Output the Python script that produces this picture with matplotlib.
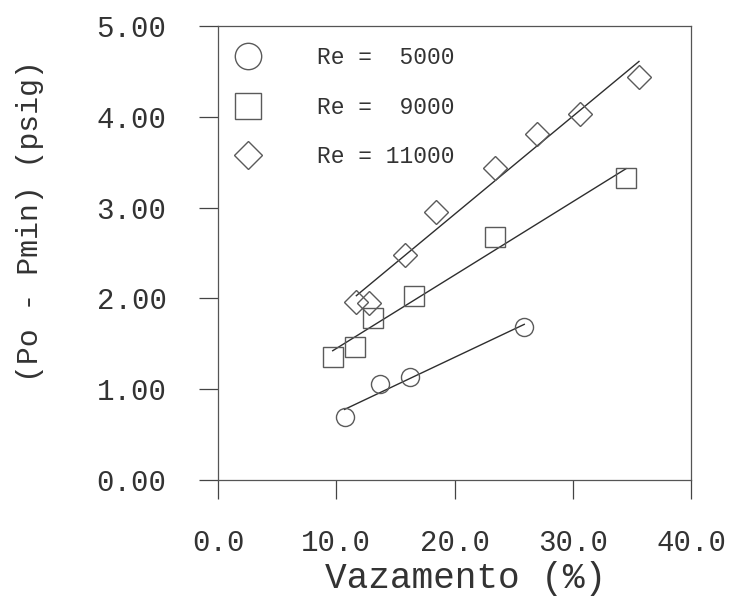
import numpy as np
import matplotlib
matplotlib.use("Agg")
import matplotlib.pyplot as plt
from matplotlib.lines import Line2D

# Data
x_re5000 = [10.7, 13.7, 16.2, 25.9]
y_re5000 = [0.69, 1.06, 1.13, 1.69]
x_re9000 = [9.7, 11.6, 13.1, 16.6, 23.4, 34.5]
y_re9000 = [1.36, 1.46, 1.78, 2.03, 2.68, 3.33]
x_re11000 = [11.7, 12.8, 15.8, 18.4, 23.4, 27.0, 30.6, 35.6]
y_re11000 = [1.96, 1.95, 2.48, 2.95, 3.44, 3.81, 4.03, 4.44]
labels = ["Re =  5000", "Re =  9000", "Re = 11000"]
xticks = [0, 10, 20, 30, 40]
yticks = [0, 1, 2, 3, 4, 5]

FONT = ["Liberation Mono", "DejaVu Sans Mono"]
plt.rcParams["font.family"] = FONT

fig = plt.figure(figsize=(7.31, 5.96), dpi=100)
ax = fig.add_axes([218 / 731, 1 - 480 / 596, (691 - 218) / 731, (480 - 26) / 596])

edge = "#5a5a5a"
line_c = "#2e2e2e"
series = [
    (x_re5000, y_re5000, "o", 13.0, 19.0),
    (x_re9000, y_re9000, "s", 14.5, 19.0),
    (x_re11000, y_re11000, "D", 12.5, 14.3),
]
handles = []
for (xs, ys, m, ms, lms), lab in zip(series, labels):
    xs = np.asarray(xs)
    ys = np.asarray(ys)
    k, b = np.polyfit(xs, ys, 1)
    xl = np.array([xs.min(), xs.max()])
    ax.plot(xl, k * xl + b, color=line_c, lw=1.0, zorder=2)
    ax.plot(xs, ys, linestyle="none", marker=m, ms=ms, mfc="none",
            mec=edge, mew=1.0, zorder=3)
    handles.append(Line2D([], [], linestyle="none", marker=m, ms=lms,
                          mfc="none", mec=edge, mew=1.0, label=lab))

ax.set_xlim(0, 40)
ax.set_ylim(0, 5)
ax.set_xticks(xticks)
ax.set_yticks(yticks)
ax.set_xticklabels([f"{v:.1f}" for v in xticks])
ax.set_yticklabels([f"{v:.2f}" for v in yticks])
ax.tick_params(direction="out", length=14, width=0.9, color="#444444",
               labelsize=21, labelcolor="#333333")
ax.tick_params(axis="x", pad=21)
ax.tick_params(axis="y", pad=23)
for s in ax.spines.values():
    s.set_color("#555555")
    s.set_linewidth(0.9)

ax.set_xlabel("Vazamento (%)", fontsize=26, color="#333333")
ax.xaxis.set_label_coords((466 - 218) / 473, (480 - 578) / 454)
ax.xaxis.label.set_verticalalignment("center")
ax.set_ylabel("(Po - Pmin) (psig)", fontsize=21.5, color="#333333")
ax.yaxis.set_label_coords((30 - 218) / 473, (480 - 221) / 454)
ax.yaxis.label.set_verticalalignment("center")

leg = ax.legend(handles=handles, loc="upper left", bbox_to_anchor=(0.0, 0.970),
                frameon=False, fontsize=16.5,
                handlelength=2.0, handletextpad=2.0, labelspacing=1.14,
                borderaxespad=0.0, borderpad=0.3)
for t in leg.get_texts():
    t.set_color("#333333")

fig.savefig("out.png", dpi=100, facecolor="white")
